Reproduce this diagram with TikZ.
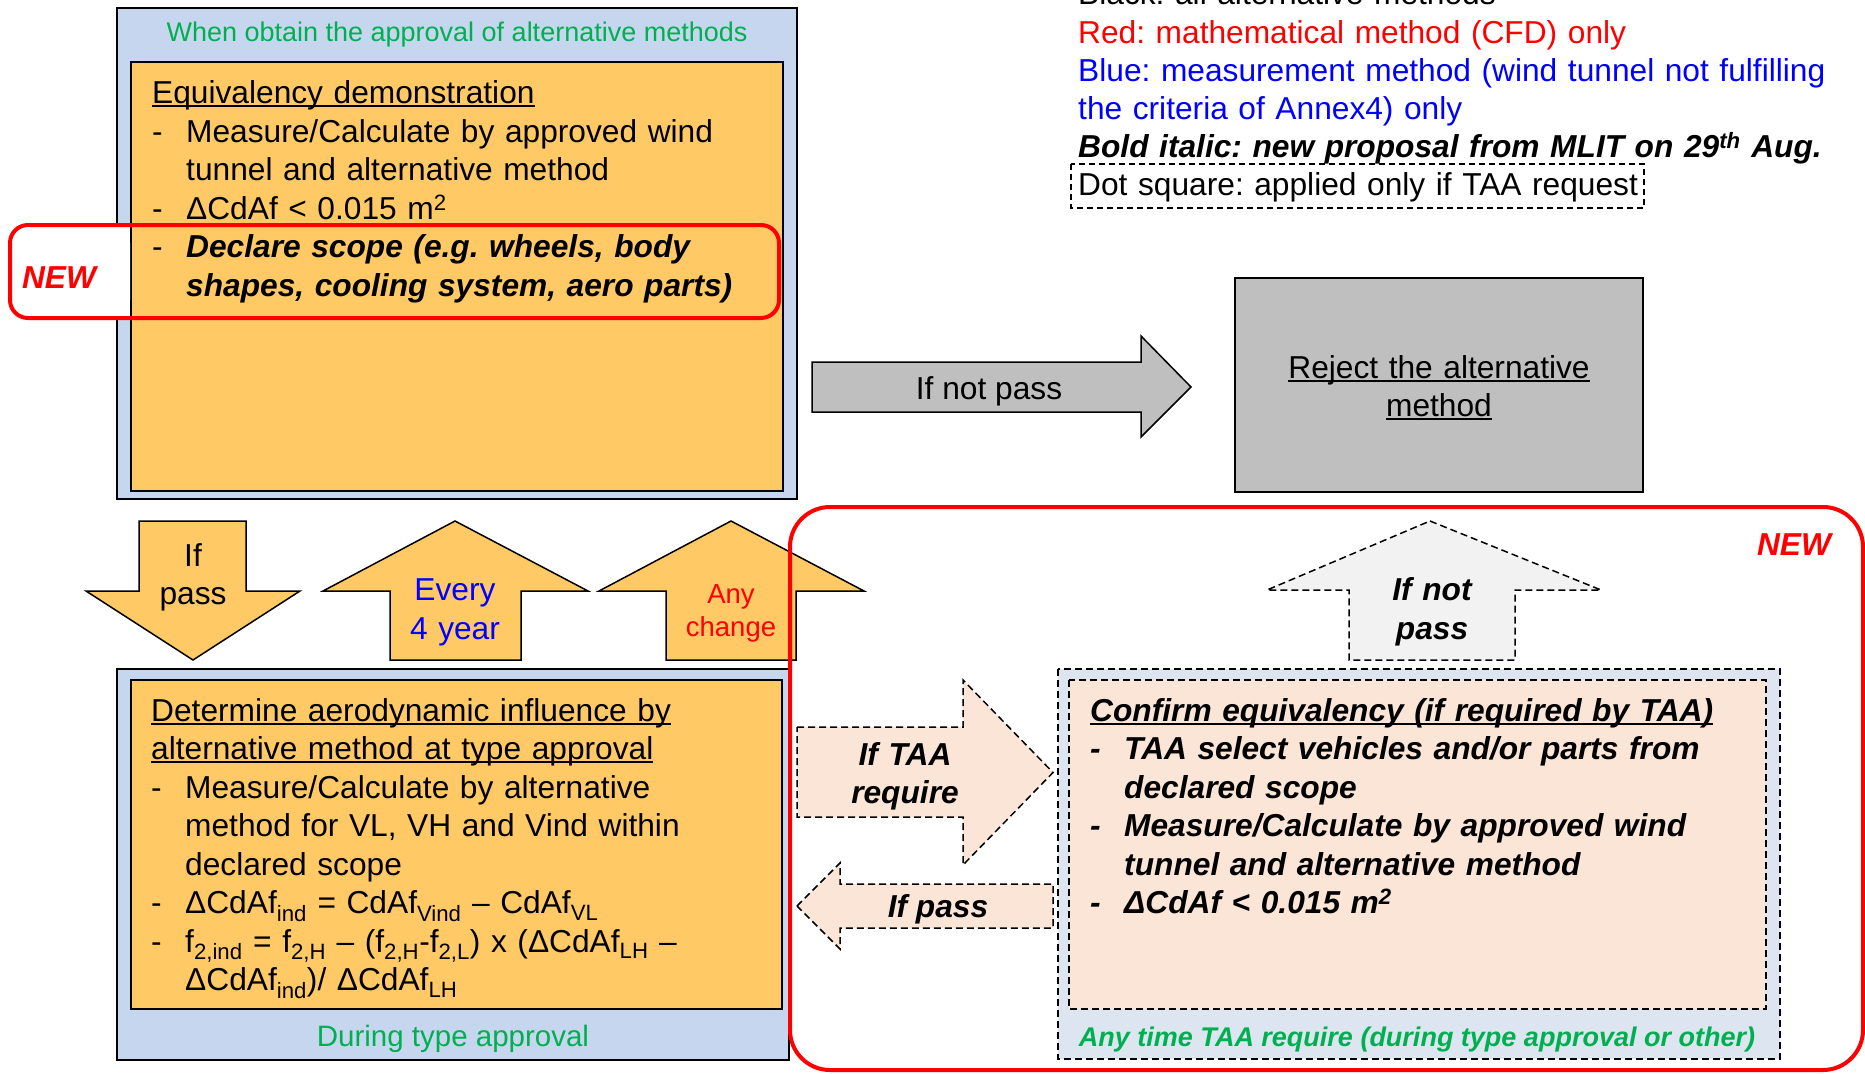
\documentclass[tikz,border=0pt]{standalone}
\usepackage{fontspec}
\setmainfont{Liberation Sans}

\definecolor{boxblue}{HTML}{C6D6EE}
\definecolor{boxorange}{HTML}{FFC966}
\definecolor{taablue}{HTML}{DDE5F1}
\definecolor{taapeach}{HTML}{FBE5D6}
\definecolor{rejectgrey}{HTML}{BFBFBF}
\definecolor{notpassgrey}{HTML}{F2F2F2}
\definecolor{notegreen}{HTML}{00B050}

\newcommand{\bodyfont}{\fontsize{31.7}{38.5}\selectfont}
\newcommand{\smallfont}{\fontsize{27.5}{33}\selectfont}
\newcommand{\dashitem}{\makebox[34pt][l]{-}}
\newcommand{\contline}{\hspace*{34pt}}
\newcommand{\bfit}[1]{\textbf{\textit{#1}}}
\newsavebox{\ulbox}
\newcommand{\undl}[1]{\leavevmode\sbox{\ulbox}{#1}\rlap{\rule[-3.5pt]{\wd\ulbox}{1.8pt}}\usebox{\ulbox}}
\lineskiplimit=-100pt
\frenchspacing

\tikzset{
  outerbox/.style={fill=boxblue, draw=black, line width=2pt},
  innerbox/.style={fill=boxorange, draw=black, line width=1.5pt},
  blockarrow/.style={fill=boxorange, draw=black, line width=1.5pt},
  taaarrow/.style={fill=taapeach, draw=black, line width=1.5pt, dash pattern=on 7pt off 4pt},
  newmark/.style={draw=red, line width=4pt, rounded corners=18pt},
  newtext/.style={font=\bodyfont\bfseries\itshape, text=red, inner sep=0pt, anchor=base},
  bodytext/.style={font=\bodyfont, align=left, text width=900pt, inner sep=0pt, anchor=north west},
  arrowtext/.style={font=\bodyfont, align=center, text width=200pt, inner sep=0pt, anchor=north},
  linetext/.style={font=\bodyfont, inner sep=0pt, anchor=base},
  greentext/.style={font=\fontsize{27}{32}\selectfont, text=notegreen, inner sep=0pt, anchor=base}
}

\begin{document}
\begin{tikzpicture}[x=1pt,y=-1pt]
\useasboundingbox (0,0) rectangle (1865,1073);

% approval of the alternative method
\draw[outerbox] (117,8) rectangle (797,499);
\node[greentext] (approvaltitle) at (457,41.5) {When obtain the approval of alternative methods};
\draw[innerbox] (131,62) rectangle (783,491);
\node[bodytext] (equiv) at (152,76.5) {\strut\undl{Equivalency demonstration}\par
  \dashitem Measure/Calculate by approved wind\par
  \contline tunnel and alternative method\par
  \dashitem ΔCdAf < 0.015 m\textsuperscript{2}\par
  \dashitem \bfit{Declare scope (e.g. wheels, body}\par
  \contline \bfit{shapes, cooling system, aero parts)}};

% new item marker
\fill[white, rounded corners=18pt] (10,225) rectangle (130,318);
\fill[white] (60,225) rectangle (130,318);
\draw[newmark] (10,225) rectangle (779,318);
\node[newtext] (newtop) at (59,288.5) {NEW};

% legend
\node[bodytext, font=\fontsize{31.7}{38.2}\selectfont] (legend) at (1078,-22) {\strut Black: all alternative methods\par
  \textcolor{red}{Red: mathematical method (CFD) only}\par
  \textcolor{blue}{Blue: measurement method (wind tunnel not fulfilling}\par
  \textcolor{blue}{the criteria of Annex4) only}\par
  \bfit{Bold italic: new proposal from MLIT on 29\textsuperscript{th} Aug.}\par
  Dot square: applied only if TAA request};
\draw[line width=1.5pt, dash pattern=on 6pt off 4pt] (1071,164) rectangle (1644,208);

% reject
\draw[blockarrow, fill=rejectgrey] (812,362) -- (1141,362) -- (1141,336) -- (1191,387) -- (1141,437) -- (1141,412) -- (812,412) -- cycle;
\node[linetext] (ifnotpass) at (989,399) {If not pass};
\draw[draw=black, line width=1.5pt, fill=rejectgrey] (1235,278) rectangle (1643,492);
\node[arrowtext, text width=400pt] (reject) at (1439,351) {\strut\undl{Reject the alternative}\par\undl{method}};

% during type approval
\draw[outerbox] (117,669) rectangle (789,1060);
\draw[innerbox] (131,680) rectangle (782,1009);
\node[bodytext] (determine) at (151,694) {\strut\undl{Determine aerodynamic influence by}\par
  \undl{alternative method at type approval}\par
  \dashitem Measure/Calculate by alternative\par
  \contline method for VL, VH and Vind within\par
  \contline declared scope\par
  \dashitem ΔCdAf\textsubscript{ind} = CdAf\textsubscript{Vind} – CdAf\textsubscript{VL}\par
  \dashitem f\textsubscript{2,ind} = f\textsubscript{2,H} – (f\textsubscript{2,H}-f\textsubscript{2,L}) x (ΔCdAf\textsubscript{LH} –\par
  \contline ΔCdAf\textsubscript{ind})/ ΔCdAf\textsubscript{LH}};
\node[greentext, font=\fontsize{29.5}{34}\selectfont] (duringta) at (453,1046.4) {During type approval};

% arrows between the two stages
\draw[blockarrow] (139,521) -- (246,521) -- (246,591) -- (300,591) -- (193,660) -- (86,591) -- (139,591) -- cycle;
\node[arrowtext] (ifpass) at (193,539) {\strut If\par pass};
\draw[blockarrow] (455,521) -- (588,591) -- (521,591) -- (521,660) -- (390,660) -- (390,591) -- (323,591) -- cycle;
\node[arrowtext, text=blue] (everyfour) at (455,573.5) {\strut Every\par 4 year};
\draw[blockarrow] (731,521) -- (864,591) -- (796,591) -- (796,660) -- (666,660) -- (666,591) -- (599,591) -- cycle;
\node[arrowtext, text=red, font=\smallfont] (anychange) at (731,580) {\strut Any\par change};

% confirmation on TAA request
\draw[newmark, rounded corners=40pt] (790,507) rectangle (1863,1070);
\node[newtext] (newbottom) at (1794,555) {NEW};
\draw[taaarrow, fill=notpassgrey] (1430,521) -- (1601,590) -- (1515,590) -- (1515,660) -- (1349,660) -- (1349,590) -- (1267,590) -- cycle;
\node[arrowtext, font=\bodyfont\bfseries\itshape] (ifnotpasstaa) at (1432,573.5) {\strut If not\par pass};
\draw[taaarrow, fill=taablue] (1058,669) rectangle (1780,1059);
\draw[taaarrow] (1069,680) rectangle (1766,1009);
\node[bodytext, font=\bodyfont\bfseries\itshape] (confirm) at (1090,694) {\strut\undl{Confirm equivalency (if required by TAA)}\par
  \dashitem TAA select vehicles and/or parts from\par
  \contline declared scope\par
  \dashitem Measure/Calculate by approved wind\par
  \contline tunnel and alternative method\par
  \dashitem ΔCdAf < 0.015 m\textsuperscript{2}};
\node[greentext, font=\fontsize{27}{32}\selectfont\bfseries\itshape] (anytime) at (1417,1046.4) {Any time TAA require (during type approval or other)};
\draw[taaarrow] (797,727) -- (963,727) -- (963,680) -- (1053,772.5) -- (963,865) -- (963,817) -- (797,817) -- cycle;
\node[arrowtext, font=\bodyfont\bfseries\itshape] (iftaa) at (905,738) {\strut If TAA\par require};
\draw[taaarrow] (797,906) -- (840,863) -- (840,884) -- (1053,884) -- (1053,928) -- (840,928) -- (840,949) -- cycle;
\node[linetext, font=\bodyfont\bfseries\itshape] (ifpasstaa) at (938,917) {If pass};
\end{tikzpicture}
\end{document}
